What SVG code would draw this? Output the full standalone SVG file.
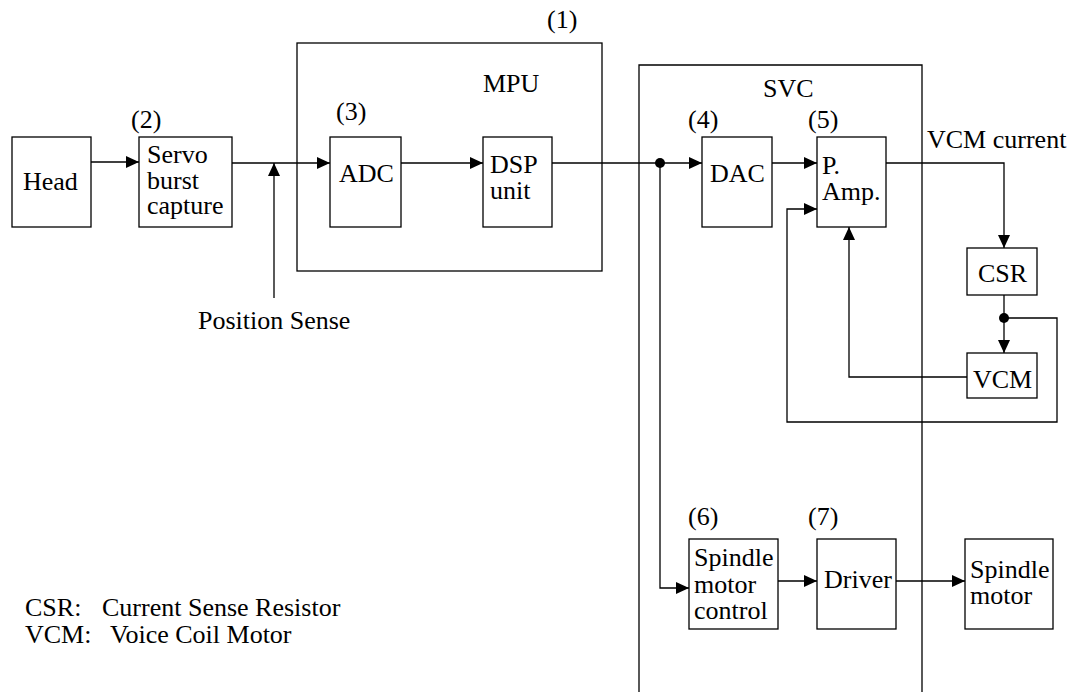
<svg xmlns="http://www.w3.org/2000/svg" width="1072" height="692" viewBox="0 0 1072 692">
<style>
.b{fill:#fff;stroke:#000;stroke-width:1.3}
.f{fill:none;stroke:#000;stroke-width:1.3}
.c{fill:none;stroke:#000;stroke-width:1.3;marker-end:url(#a)}
</style>
<defs>
<marker id="a" markerUnits="userSpaceOnUse" markerWidth="13" markerHeight="12" refX="13" refY="6" orient="auto">
<path d="M0,0 L13,6 L0,12 z" fill="#000"/>
</marker>
</defs>
<rect width="1072" height="692" fill="#fff"/>
<g font-family="'Liberation Serif', 'Times New Roman', 'DejaVu Serif', serif" font-size="26" fill="#000">
<g id="mpu">
<rect class="f" x="297" y="43" width="305" height="228"/>
<text x="547" y="28">(1)</text>
<text x="483" y="92">MPU</text>
</g>
<g id="svc">
<path class="f" d="M639,692 V65 H922 V692"/>
<text x="763" y="97">SVC</text>
</g>
<g id="connectors">
<path class="c" d="M91,162 H139"/>
<path class="c" d="M232,163 H330"/>
<path class="c" d="M274,298 V163"/>
<path class="c" d="M401,163 H483"/>
<path class="c" d="M552,163 H702"/>
<path class="c" d="M660,163 V588 H689"/>
<path class="c" d="M772,163 H817"/>
<path class="c" d="M886,163 H1004 V248"/>
<path class="c" d="M1004,295 V353"/>
<path class="c" d="M1004,318 H1057 V422 H787 V209 H817"/>
<path class="c" d="M967,377 H849 V227"/>
<path class="c" d="M778,581 H817"/>
<path class="c" d="M896,581 H965"/>
<circle cx="660" cy="163" r="5" fill="#000"/>
<circle cx="1004" cy="318" r="5" fill="#000"/>
</g>
<g id="head">
<rect class="b" x="12" y="137" width="79" height="90"/>
<text x="23" y="190">Head</text>
</g>
<g id="servo">
<rect class="b" x="139" y="137" width="93" height="90"/>
<text x="131" y="128">(2)</text>
<text x="147" y="163">Servo</text>
<text x="147" y="189">burst</text>
<text x="147" y="214">capture</text>
</g>
<g id="position-sense">
<text x="198" y="329">Position Sense</text>
</g>
<g id="adc">
<rect class="b" x="330" y="137" width="71" height="90"/>
<text x="336" y="120">(3)</text>
<text x="339" y="182">ADC</text>
</g>
<g id="dsp">
<rect class="b" x="483" y="137" width="69" height="90"/>
<text x="490" y="173">DSP</text>
<text x="490" y="199">unit</text>
</g>
<g id="dac">
<rect class="b" x="702" y="137" width="70" height="90"/>
<text x="688" y="128">(4)</text>
<text x="710" y="182">DAC</text>
</g>
<g id="pamp">
<rect class="b" x="817" y="137" width="69" height="90"/>
<text x="808" y="128">(5)</text>
<text x="822" y="174">P.</text>
<text x="822" y="200">Amp.</text>
</g>
<g id="vcm-current">
<text x="927" y="148">VCM current</text>
</g>
<g id="csr">
<rect class="b" x="967" y="248" width="70" height="47"/>
<text x="978" y="282">CSR</text>
</g>
<g id="vcm">
<rect class="b" x="967" y="353" width="70" height="45"/>
<text x="973" y="388">VCM</text>
</g>
<g id="smc">
<rect class="b" x="689" y="539" width="89" height="90"/>
<text x="688" y="525">(6)</text>
<text x="694" y="566">Spindle</text>
<text x="694" y="593">motor</text>
<text x="694" y="619">control</text>
</g>
<g id="driver">
<rect class="b" x="817" y="539" width="79" height="90"/>
<text x="808" y="525">(7)</text>
<text x="824" y="588">Driver</text>
</g>
<g id="spindle-motor">
<rect class="b" x="965" y="539" width="88" height="90"/>
<text x="970" y="578">Spindle</text>
<text x="970" y="604">motor</text>
</g>
<g id="legend">
<text x="25" y="616">CSR:</text>
<text x="102" y="616">Current Sense Resistor</text>
<text x="25" y="643">VCM:</text>
<text x="110" y="643">Voice Coil Motor</text>
</g>
</g>
</svg>
